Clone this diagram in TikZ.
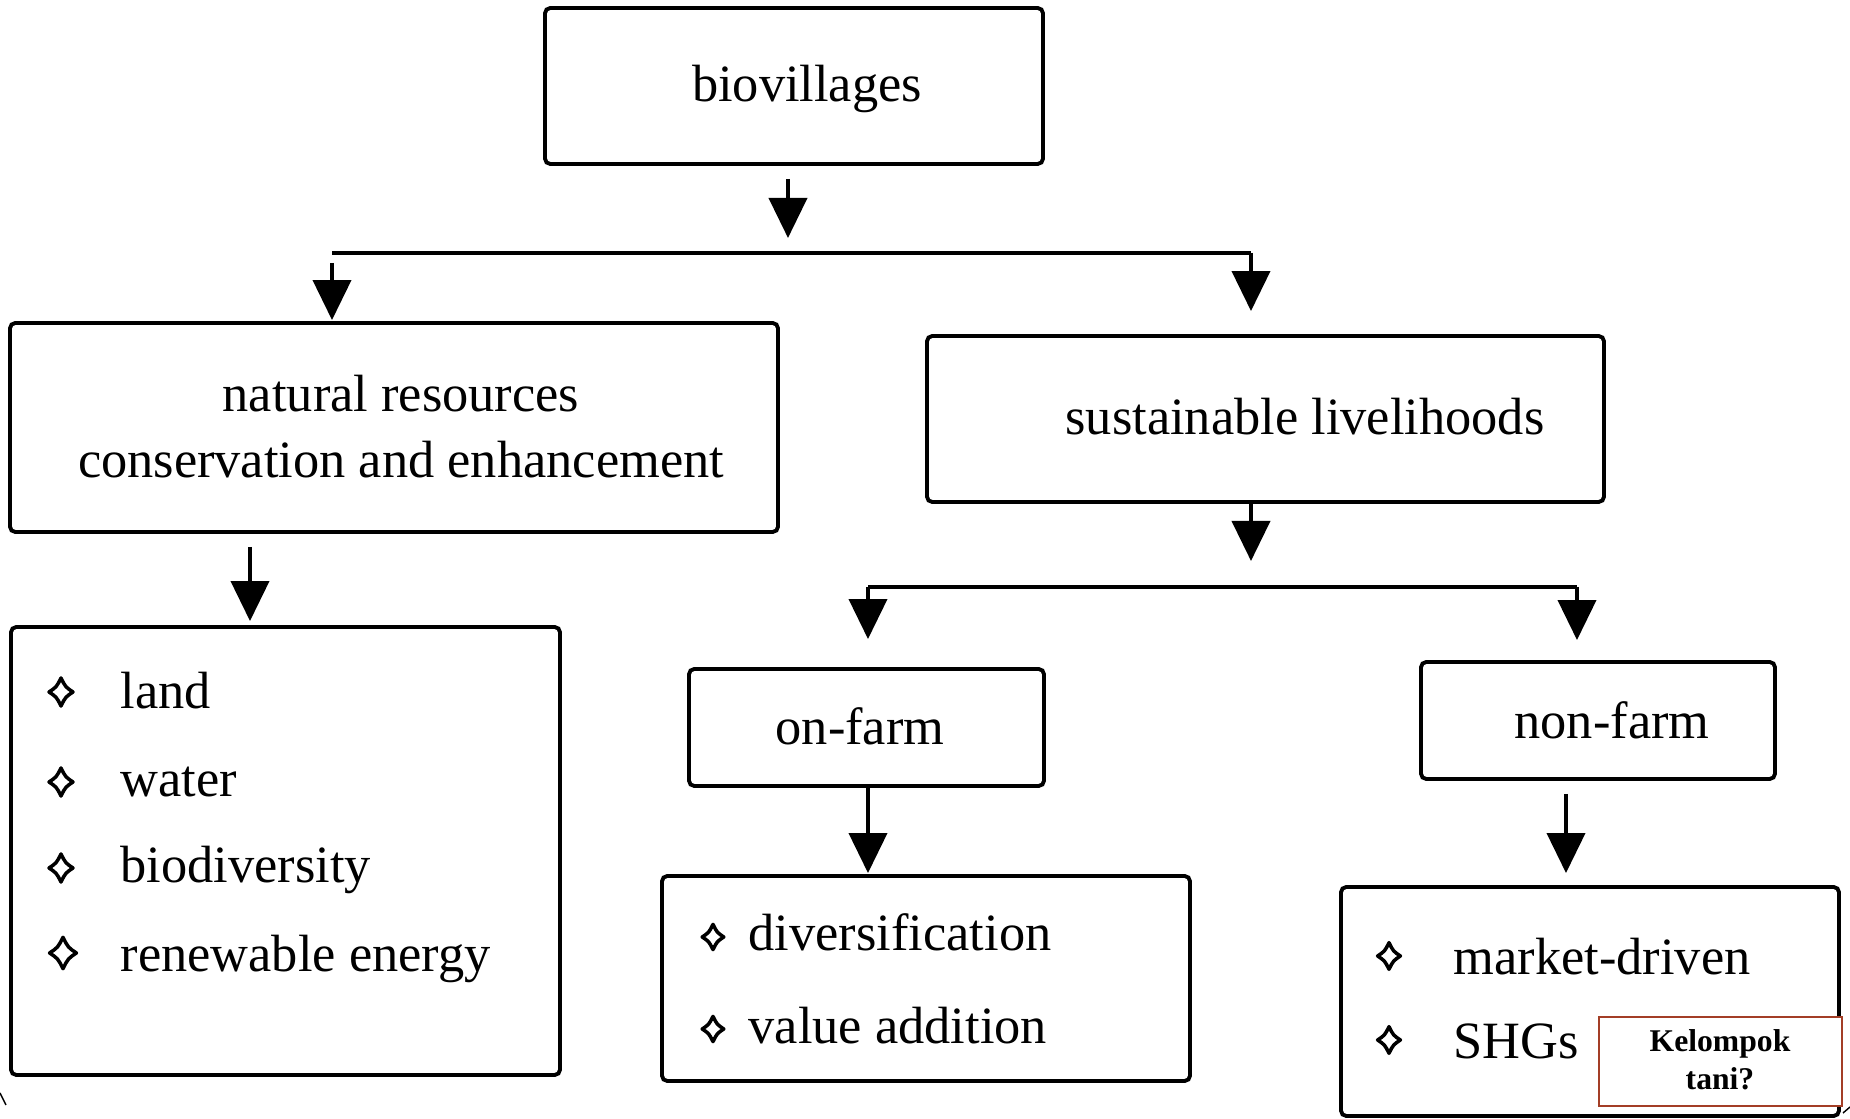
\documentclass[tikz,border=0pt]{standalone}
\usepackage{fontspec}
\setmainfont{Liberation Serif}
\usetikzlibrary{arrows.meta,fit}
\definecolor{ktred}{RGB}{163,62,38}
\begin{document}
\begin{tikzpicture}[x=0.01cm,y=-0.01cm,
  box/.style={draw, line width=1.1pt, rounded corners=1.5pt, inner sep=0pt},
  txt/.style={inner sep=0pt, anchor=base, font=\fontsize{14.9}{18}\selectfont},
  item/.style={inner sep=0pt, anchor=base west, font=\fontsize{14.9}{18}\selectfont},
  conn/.style={line width=1.1pt},
  arr/.style={line width=1.1pt, -{Triangle[width=0.38cm,length=0.40cm]}},
  bul/.pic={\draw[line width=1pt, line join=round] (0,-14) .. controls (4.5,-5) .. (12,0) .. controls (4.5,5) .. (0,14) .. controls (-4.5,5) .. (-12,0) .. controls (-4.5,-5) .. (0,-14) -- cycle;}
]
\useasboundingbox (0,0) rectangle (1850,1119);

% boxes
\node[box, fit={(545,8) (1043,164)}] (bio) {};
\node[box, fit={(10,323) (778,532)}] (nr) {};
\node[box, fit={(927,336) (1604,502)}] (sl) {};
\node[box, fit={(689,669) (1044,786)}] (onf) {};
\node[box, fit={(1421,662) (1775,779)}] (nonf) {};
\node[box, fit={(11,627) (560,1075)}] (lst1) {};
\node[box, fit={(662,876) (1190,1081)}] (lst2) {};
\node[box, fit={(1341,887) (1839,1116)}] (lst3) {};

% box texts
\node[txt] (biot) at (807,102) {biovillages};
\node[txt] (nrt1) at (401,412) {natural resources};
\node[txt] (nrt2) at (401,478) {conservation and enhancement};
\node[txt] (slt) at (1305,435) {sustainable livelihoods};
\node[txt] (onft) at (860,745) {on-farm};
\node[txt] (nonft) at (1612,739) {non-farm};

% list 1
\pic at (61,692) {bul};
\node[item] (l1a) at (120,709) {land};
\pic at (61,782) {bul};
\node[item] (l1b) at (120,797) {water};
\pic at (61,868) {bul};
\node[item] (l1c) at (120,883) {biodiversity};
\pic[scale=1.12] at (63,953) {bul};
\node[item] (l1d) at (120,972) {renewable energy};

% list 2
\pic[scale=0.9] at (713,937) {bul};
\node[item] (l2a) at (748,951) {diversification};
\pic[scale=0.9] at (713,1029) {bul};
\node[item] (l2b) at (748,1044) {value addition};

% list 3
\pic[scale=0.95] at (1389,956) {bul};
\node[item] (l3a) at (1453,975) {market-driven};
\pic[scale=0.95] at (1389,1040) {bul};
\node[item] (l3b) at (1453,1059) {SHGs};

% Kelompok tani note
\node[draw=ktred, line width=0.7pt, fill=white, inner sep=0pt, fit={(1599,1017) (1842,1106)}] (kt) {};
\node[inner sep=0pt, anchor=base, font=\fontsize{9}{10}\selectfont\bfseries] (kt1) at (1720,1052) {Kelompok};
\node[inner sep=0pt, anchor=base, font=\fontsize{9}{10}\selectfont\bfseries] (kt2) at (1720,1090) {tani?};

% junction coordinates
\coordinate (j1) at (788,253);
\coordinate (tl) at (332,253);
\coordinate (tr) at (1251,253);
\coordinate (j2) at (1251,587);
\coordinate (ml) at (868,587);
\coordinate (mr) at (1577,587);

% connectors
\draw[arr, shorten <=0.13cm, shorten >=0.15cm] (bio.south -| j1) -- (j1);
\draw[conn] (tl) -- (tr);
\draw[arr, shorten <=0.10cm, shorten >=0.01cm] (tl) -- (tl |- nr.north);
\draw[arr, shorten >=0.23cm] (tr) -- (tr |- sl.north);
\draw[arr, shorten >=0.26cm] (sl.south -| j2) -- (j2);
\draw[conn] (ml) -- (mr);
\draw[arr, shorten >=0.28cm] (ml) -- (ml |- onf.north);
\draw[arr, shorten >=0.20cm] (mr) -- (mr |- nonf.north);
\draw[arr, shorten <=0.13cm, shorten >=0.04cm] (nr.south -| 250,0) -- (lst1.north -| 250,0);
\draw[arr, shorten >=0.01cm] (onf.south -| ml) -- (lst2.north -| ml);
\draw[arr, shorten <=0.13cm, shorten >=0.12cm] (nonf.south -| 1566,0) -- (lst3.north -| 1566,0);

% small stray marks at the edges
\draw[line width=0.4pt] (0,1093) -- (6,1105);
\draw[line width=0.4pt] (1843,1113) -- (1850,1107);
\end{tikzpicture}
\end{document}
